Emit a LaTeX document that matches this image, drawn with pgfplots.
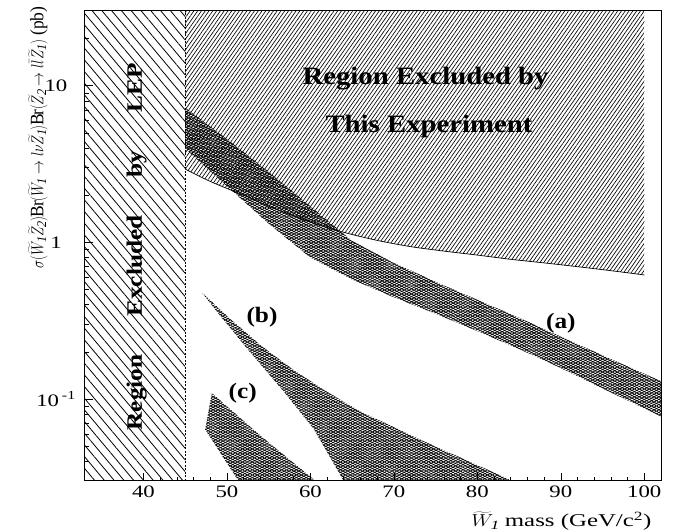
\documentclass[border=0pt]{standalone}
\usepackage{graphicx}
\usepackage{fontspec}
\setmainfont{Liberation Serif}[FakeStretch=1.15]
\newfontfamily\tickfont{Liberation Serif}[FakeStretch=1.3]
\usepackage{pgfplots}
\pgfplotsset{compat=1.18}
\usetikzlibrary{patterns.meta}

\tikzset{
  lephatch/.style={draw=none,pattern={Lines[angle=-50,distance=7.5pt,line width=0.8pt]}},
  exphatch/.style={draw=none,pattern={Lines[angle=55,distance=3.1pt,line width=0.65pt]}},
  band/.style={draw=none,
    pattern={Lines[angle=28,distance=2.3pt,line width=0.75pt]},
    postaction={pattern={Lines[angle=-28,distance=2.3pt,line width=0.75pt]}}},
  lbl/.style={font=\fontsize{22}{26}\selectfont\bfseries},
}

\begin{document}
\begin{tikzpicture}
\begin{axis}[
    width=576pt, height=470pt, scale only axis,
    xmin=33, xmax=102,
    ymode=log, ymin=0.03, ymax=30,
    xtick={40,50,60,70,80,90,100},
    xticklabels={40,50,60,70,80,90,100},
    minor x tick num=4,
    ytick={0.1,1,10},
    yticklabels={10\,\textsuperscript{-1},1,10},
    minor ytick={0.04,0.05,0.06,0.07,0.08,0.09,0.2,0.3,0.4,0.5,0.6,0.7,0.8,0.9,2,3,4,5,6,7,8,9,20},
    tick pos=left, tick align=inside,
    major tick length=8pt, minor tick length=4.5pt,
    every tick/.style={black,line width=0.6pt},
    axis line style={line width=1pt},
    ticklabel style={font=\tickfont\fontsize{17.5}{20}\selectfont},
    xticklabel style={inner ysep=2pt,yshift=-3pt},
    yticklabel style={anchor=center,xshift=-29pt},
    clip mode=individual,
]
% LEP excluded region
\addplot[lephatch] coordinates {(33,0.03) (45,0.03) (45,30) (33,30)} -- cycle;
\addplot[black,line width=0.7pt,dash pattern=on 2pt off 1.5pt] coordinates {(45,0.03) (45,30)};

% region excluded by this experiment
\addplot[exphatch] coordinates {
  (45,30) (45,2.94) (48,2.45) (52,2.00) (56,1.62) (60,1.35) (64,1.16) (68,1.03)
  (72,0.94) (76,0.88) (80,0.83) (84,0.78) (88,0.74) (92,0.70) (96,0.66) (100,0.62) (100,30)
} -- cycle;
\addplot[black,line width=0.7pt,smooth] coordinates {
  (45,2.94) (48,2.45) (52,2.00) (56,1.62) (60,1.35) (64,1.16) (68,1.03)
  (72,0.94) (76,0.88) (80,0.83) (84,0.78) (88,0.74) (92,0.70) (96,0.66) (100,0.62)
};

% band (a)
\addplot[band] coordinates {
  (45,7.24) (50,4.57) (55,2.82) (60,1.70) (65,1.02) (70,0.74) (75,0.56) (80,0.43)
  (85,0.33) (90,0.25) (95,0.19) (102,0.13)
  (102,0.0776) (95,0.117) (90,0.158) (85,0.209) (80,0.272) (75,0.351) (70,0.447)
  (65,0.58) (60,0.80) (55,1.32) (50,2.29) (45,3.98)
} -- cycle;

% band (b)
\addplot[band] coordinates {
  (47,0.479) (50,0.339) (54,0.221) (58,0.153) (62,0.111) (66,0.0832) (70,0.0661)
  (74,0.0525) (78,0.0422) (82,0.0339) (84.2,0.030)
  (64,0.030) (60.4,0.0646) (56.8,0.112) (52.4,0.211) (49,0.351)
} -- cycle;

% band (c)
\addplot[band] coordinates {
  (48.2,0.109) (54,0.0585) (60.6,0.030) (51.4,0.030) (47.4,0.0640)
} -- cycle;

\node[lbl] at (axis cs:90,0.303) {(a)};
\node[lbl] at (axis cs:54.2,0.334) {(b)};
\node[lbl] at (axis cs:51.9,0.109) {(c)};

\node[font=\fontsize{25}{30}\selectfont\bfseries] at (axis cs:73.8,11.1) {Region Excluded by};
\node[font=\fontsize{25}{30}\selectfont\bfseries] at (axis cs:74.2,5.48) {This Experiment};
\node[rotate=90,font=\fontsize{22}{26}\selectfont\bfseries] at (axis cs:39.2,0.935)
  {\makebox[367pt][s]{Region Excluded by LEP}};

\coordinate (bl) at (rel axis cs:0,0);
\coordinate (tr) at (rel axis cs:1,1);
\coordinate (tl) at (rel axis cs:0,1);
\coordinate (br) at (rel axis cs:1,0);
\end{axis}

\node[rotate=90,anchor=east,font=\fontsize{19}{23}\selectfont] at ([xshift=-47pt,yshift=8pt]tl)
  {\scalebox{0.8}[1]{$\sigma(\widetilde{W}_{\mathit{1}}\widetilde{Z}_{\mathit{2}})\mathrm{Br}(\widetilde{W}_{\mathit{1}}\rightarrow l\nu\widetilde{Z}_{\mathit{1}})\mathrm{Br}(\widetilde{Z}_{\mathit{2}}\rightarrow l\bar{l}\widetilde{Z}_{\mathit{1}})$ (pb)}};
\node[anchor=east,font=\fontsize{18}{22}\selectfont,inner ysep=1pt] at ([xshift=-6pt,yshift=-40pt]br)
  {\scalebox{1.2}[1]{$\widetilde{W}_{\mathit{1}}$ mass (GeV/c\textsuperscript{2})}};

\pgfresetboundingbox
\path ([xshift=-85pt,yshift=-50pt]bl) rectangle ([xshift=19pt,yshift=11pt]tr);
\end{tikzpicture}
\end{document}
